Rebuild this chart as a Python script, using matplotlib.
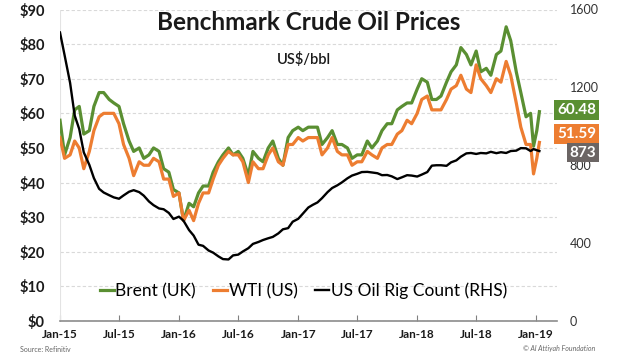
#!/usr/bin/env python3
"""
Benchmark crude oil prices vs US oil rig count
"""
import matplotlib
matplotlib.use('Agg')
import matplotlib.pyplot as plt
import matplotlib.transforms as mtransforms
import numpy as np
import pandas as pd

# Semi-monthly readings (1st and 15th), then the last few days up to Jan 11 2019
dates = list(pd.date_range('2015-01-01', '2018-12-15', freq='SMS'))
dates += [pd.Timestamp('2018-12-24'), pd.Timestamp('2019-01-03'), pd.Timestamp('2019-01-11')]

brent = [
    58, 48, 53, 61, 62, 54, 55, 62, 66, 66, 64, 63, 62, 57, 52, 49, 50, 47, 48, 50, 49, 44, 43, 38,
    37, 29, 34, 33, 37, 39, 39, 43, 46, 48, 50, 48, 49, 47, 42, 49, 47, 46, 50, 52, 47, 45, 53, 55,
    56, 55, 56, 56, 56, 51, 53, 55, 51, 51, 50, 47, 48, 48, 52, 50, 52, 55, 57, 57, 61, 62, 63, 63,
    67, 70, 69, 64, 64, 65, 69, 72, 74, 79, 77, 74, 78, 72, 73, 71, 77, 78, 85, 81, 72, 66, 59, 60,
    50.5, 55, 60.48,
]
wti = [
    53, 47, 48, 52, 50, 44, 49, 55, 59, 60, 60, 60, 57, 51, 47, 42, 46, 45, 45, 47, 46, 41, 41, 36,
    37, 29, 32, 29, 34, 37, 37, 41, 45, 47, 49, 48, 48, 46, 40, 46, 44, 44, 48, 50, 46, 45, 51, 51,
    53, 52, 53, 53, 53, 48, 50, 53, 49, 48, 48, 45, 46, 46, 49, 48, 47, 50, 51, 51, 54, 55, 58, 57,
    60, 64, 65, 61, 61, 61, 64, 67, 68, 71, 67, 66, 74, 70, 68, 66, 70, 69, 75, 71, 63, 56, 51, 51,
    42.5, 47, 51.59,
]
rigs = [
    1482, 1366, 1223, 1056, 986, 866, 802, 734, 679, 660, 646, 635, 628, 645, 664, 672, 662, 644,
    614, 595, 578, 574, 555, 524,
    536, 515, 467, 439, 392, 386, 362, 351, 332, 318, 316, 337, 341, 357, 374, 396, 406, 416,
    425, 432, 450, 471, 477, 510,
    525, 551, 583, 597, 609, 631, 662, 683, 697, 712, 733, 747, 756, 765, 766, 763, 759, 749,
    750, 743, 729, 738, 749, 747,
    742, 752, 765, 798, 800, 800, 797, 815, 825, 844, 861, 863, 858, 863, 861, 869, 862, 867,
    863, 873, 875, 888, 887, 873,
    883, 877, 873,
]

tick_dates = pd.date_range('2015-01-01', '2019-01-01', freq='6MS')
price_ticks = np.arange(0, 91, 10)
rig_ticks = np.arange(0, 1601, 400)

green = '#5a8f32'
orange = '#ed7d31'
box_gray = '#6b6564'
fnt = 'Lato'

fig = plt.figure(figsize=(6.2, 3.55), dpi=100)
ax = fig.add_axes([60 / 620, 1 - 321 / 355, 497 / 620, 311.5 / 355])
ax2 = ax.twinx()

ax.plot(dates, brent, color=green, lw=2.3, label='Brent (UK)', zorder=3)
ax.plot(dates, wti, color=orange, lw=2.3, label='WTI (US)', zorder=4)
ax2.plot(dates, rigs, color='black', lw=1.7, label='US Oil Rig Count (RHS)', zorder=5)

ax.set_ylim(0, 90)
ax2.set_ylim(0, 1600)
ax.set_xlim(pd.Timestamp('2015-01-01'), pd.Timestamp('2019-03-06'))
ax.set_yticks(price_ticks)
ax.set_yticklabels([f'${v}' for v in price_ticks], fontfamily=fnt, fontweight='bold',
                   fontsize=10.5, color='#1a1a1a')
ax2.set_yticks(rig_ticks)
ax2.set_yticklabels([str(v) for v in rig_ticks], fontfamily=fnt, fontsize=9, color='#333333')
ax.set_xticks(tick_dates)
ax.set_xticklabels([d.strftime('%b-%y') for d in tick_dates], fontfamily=fnt,
                   fontweight='bold', fontsize=8.5, color='#1a1a1a')

ax.tick_params(axis='y', length=0, pad=11)
ax2.tick_params(axis='y', length=0, pad=9)
ax.tick_params(axis='x', direction='in', length=4, color='#808080', pad=6)

ax.grid(axis='y', color='#d9d9d9', lw=0.8, ls=(0, (3, 2)))
ax.axvline(ax.get_xlim()[0], color='#e3e3e3', lw=0.8)
for s in ['top', 'right', 'left']:
    ax.spines[s].set_visible(False)
    ax2.spines[s].set_visible(False)
ax2.spines['bottom'].set_visible(False)
ax.spines['bottom'].set_color('#8c8c8c')
ax.spines['bottom'].set_linewidth(1.2)

# Title and unit
ax.text(0.5, 0.995, 'Benchmark Crude Oil Prices', transform=ax.transAxes, ha='center', va='top',
        fontfamily=fnt, fontweight='bold', fontsize=17.5, color='#1a1a1a')
ax.text(0.49, 0.84, 'US$/bbl', transform=ax.transAxes, ha='center', va='center',
        fontfamily=fnt, fontweight='semibold', fontsize=10.5, color='#1a1a1a')

# Legend
h1, l1 = ax.get_legend_handles_labels()
h2, l2 = ax2.get_legend_handles_labels()
leg = ax2.legend(h1 + h2, l1 + l2, loc='lower center', bbox_to_anchor=(0.49, 0.02), ncol=3,
                 frameon=False, handlelength=0.8, handletextpad=0.1, columnspacing=1.0,
                 prop={'family': fnt, 'size': 12.5})

# Last value boxes
trans = mtransforms.blended_transform_factory(fig.transFigure, ax.transData)
trans2 = mtransforms.blended_transform_factory(fig.transFigure, ax2.transData)
bb = dict(boxstyle='square,pad=0.18', lw=0)
ax.text(596 / 620, brent[-1] + 0.5, f'{brent[-1]:.2f}', transform=trans, ha='right', va='center',
        fontfamily=fnt, fontweight='bold', fontsize=11, color='white',
        bbox=dict(bb, facecolor=green), clip_on=False)
ax.text(596 / 620, wti[-1] + 2.5, f'{wti[-1]:.2f}', transform=trans, ha='right', va='center',
        fontfamily=fnt, fontweight='bold', fontsize=11, color='white',
        bbox=dict(bb, facecolor=orange), clip_on=False)
ax2.text(596 / 620, rigs[-1] - 8, f'{rigs[-1]}', transform=trans2, ha='right', va='center',
         fontfamily=fnt, fontweight='bold', fontsize=11, color='white',
         bbox=dict(bb, facecolor=box_gray), clip_on=False, zorder=10)

# Footer
fig.text(20 / 620, 1 - 349 / 355, 'Source: Refinitiv', fontfamily=fnt, fontsize=5,
         color='#666666', va='center')
fig.text(595 / 620, 1 - 349 / 355, '\u00a9 Al Attiyah Foundation', fontfamily=fnt, fontsize=5,
         style='italic', color='#666666', va='center', ha='right')

fig.savefig('out.png', dpi=100)
